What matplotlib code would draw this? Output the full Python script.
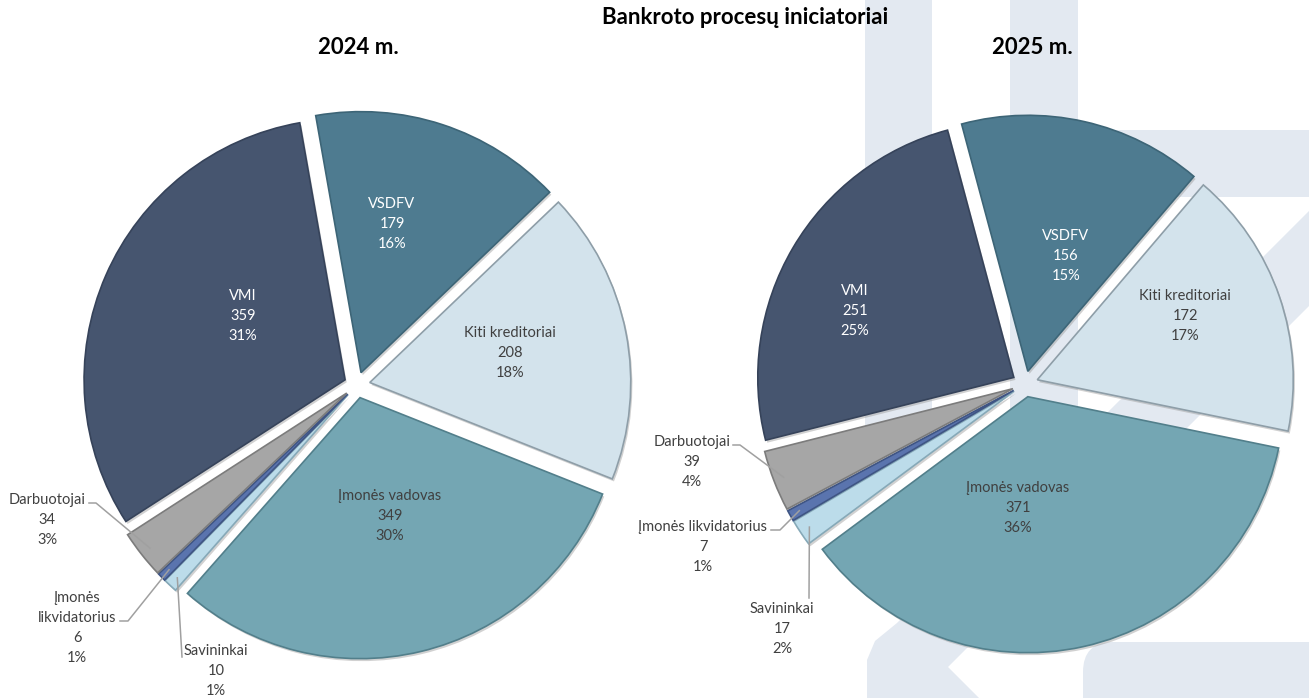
import matplotlib.pyplot as plt
import matplotlib.patches as mpatches
import numpy as np

plt.rcParams['font.family'] = ['Lato', 'DejaVu Sans']

W, H = 1309, 698

# data
categories = ['VMI', 'VSDFV', 'Kiti kreditoriai', 'Įmonės vadovas',
              'Savininkai', 'Įmonės likvidatorius', 'Darbuotojai']
values_2024 = [359, 179, 208, 349, 10, 6, 34]
values_2025 = [251, 156, 172, 371, 17, 7, 39]
pct_2024 = ['31%', '16%', '18%', '30%', '1%', '1%', '3%']
pct_2025 = ['25%', '15%', '17%', '36%', '2%', '1%', '4%']

colors = ['#46556f', '#4e7b90', '#d3e3ec', '#74a6b3',
          '#bcdcea', '#5a74ae', '#a6a6a6']
edge_colors = ['#36435a', '#3d6577', '#8e9ea8', '#527f8b',
               '#86a9b8', '#3f5584', '#7c7c7c']
text_colors = ['white', 'white', '#404040', '#404040',
               '#404040', '#404040', '#404040']

EXPLODE = 13
BG = '#e3e9f1'
LINE = '#a0a0a0'
FS = 10.5
LS = 1.55


def py(y):
    "reference pixel row -> axes y"
    return H - y


def background(ax):
    "Light watermark shapes behind the charts."
    shapes = [
        mpatches.Rectangle((865, py(450)), 67, 450),
        mpatches.Rectangle((1010, py(470)), 68, 470),
        mpatches.Rectangle((1078, py(197)), 240, 67),
        mpatches.Polygon([(867, py(700)), (867, py(660)), (875, py(641)),
                          (897, py(623)), (1323, py(197)), (1418, py(197)),
                          (948, py(667)), (981, py(700))]),
        mpatches.FancyBboxPatch((1083, py(730)), 300, 88,
                                boxstyle='round,pad=0,rounding_size=30'),
    ]
    for s in shapes:
        s.set_facecolor(BG)
        s.set_edgecolor('none')
        s.set_zorder(0)
        ax.add_patch(s)


def wedge_point(w, frac):
    mid = np.deg2rad((w.theta1 + w.theta2) / 2)
    cx, cy = w.center
    return cx + frac * w.r * np.cos(mid), cy + frac * w.r * np.sin(mid)


def draw_pie(ax, values, pcts, center, radius, start, inner, outer):
    wedges, _ = ax.pie(values, colors=colors, startangle=start,
                       counterclock=False, radius=radius,
                       center=(center[0], py(center[1])),
                       explode=[EXPLODE] * len(values), frame=True,
                       wedgeprops=dict(linewidth=1.2))
    for w, ec in zip(wedges, edge_colors):
        w.set_edgecolor(ec)
        w.set_zorder(3)
        # soft drop shadow like the office chart
        sh = mpatches.Shadow(w, 1.2, -1.8, facecolor='#9a9a9a',
                             edgecolor='none', alpha=0.45, zorder=2.5)
        ax.add_patch(sh)

    for i, (name, v, p) in enumerate(zip(categories, values, pcts)):
        if i in inner:
            x, y = inner[i]
            ax.text(x, py(y), f'{name}\n{v}\n{p}', ha='center', va='center',
                    color=text_colors[i], fontsize=FS, linespacing=LS,
                    zorder=5)
        else:
            label, (x, y), path = outer[i]
            ax.text(x, py(y), f'{label}\n{v}\n{p}', ha='center', va='center',
                    color='#404040', fontsize=FS, linespacing=LS, zorder=5)
            sx, sy = wedge_point(wedges[i], 0.96)
            xs = [sx] + [q[0] for q in path]
            ys = [sy] + [py(q[1]) for q in path]
            ax.plot(xs, ys, color=LINE, lw=1.1, zorder=4)
    return wedges


fig = plt.figure(figsize=(W / 100, H / 100), dpi=100)
ax = fig.add_axes([0, 0, 1, 1])
background(ax)

start_2024 = 100 + 360 * values_2024[0] / sum(values_2024)
start_2025 = 105 + 360 * values_2025[0] / sum(values_2025)

draw_pie(ax, values_2024, pct_2024, (357, 385), 261, start_2024,
         inner={0: (243, 316), 1: (392, 224), 2: (510, 353), 3: (390, 516)},
         outer={4: ('Savininkai', (216, 671), [(182, 657)]),
                5: ('Įmonės\nlikvidatorius', (77, 628), [(128, 621), (120, 621)]),
                6: ('Darbuotojai', (47, 520), [(96, 503), (89, 503)])})

draw_pie(ax, values_2025, pct_2025, (1025, 384), 256, start_2025,
         inner={0: (855, 311), 1: (1066, 256), 2: (1185, 316), 3: (1018, 508)},
         outer={4: ('Savininkai', (782, 629), [(809, 598)]),
                5: ('Įmonės likvidatorius', (703, 547), [(780, 530), (771, 530)]),
                6: ('Darbuotojai', (692, 462), [(740, 445), (733, 445)])})

ax.text(745, py(17), 'Bankroto procesų iniciatoriai', ha='center', va='center',
        fontsize=16, fontweight='bold', color='black', zorder=6)
ax.text(358, py(47), '2024 m.', ha='center', va='center',
        fontsize=16, fontweight='bold', color='black', zorder=6)
ax.text(1032, py(47), '2025 m.', ha='center', va='center',
        fontsize=16, fontweight='bold', color='black', zorder=6)

ax.set_xlim(0, W)
ax.set_ylim(0, H)
ax.set_aspect('equal')
ax.axis('off')

fig.savefig('out.png', dpi=100, facecolor='white')
